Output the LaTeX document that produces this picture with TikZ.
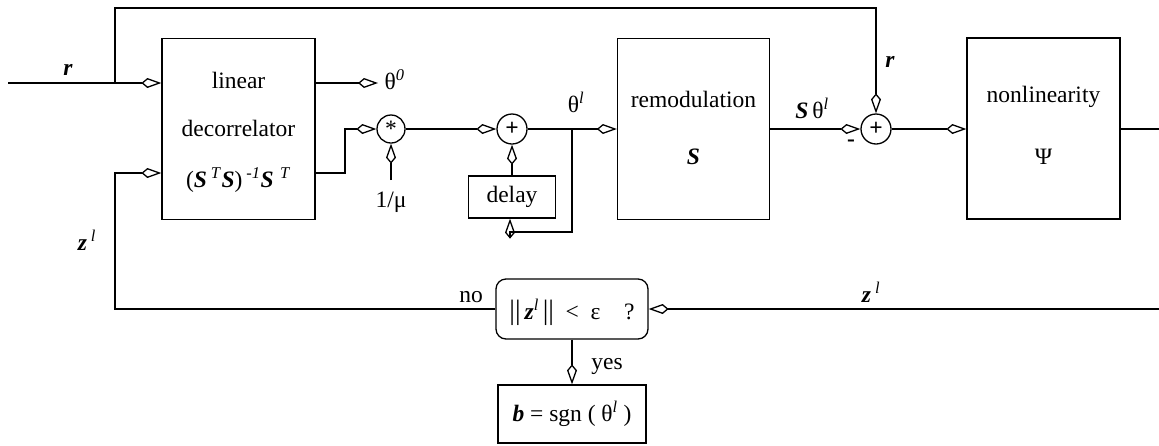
\documentclass[tikz,border=0pt]{standalone}
\usepackage{fontspec}
\setmainfont{Liberation Serif}
\usetikzlibrary{arrows.meta}
\newcommand{\bi}[1]{\textbf{\textit{#1}}}
\newcommand{\sps}[1]{\textsuperscript{\textit{#1}}}
\newcommand{\tallbar}{{\fontsize{28}{28}\selectfont||}}
\begin{document}
\begin{tikzpicture}[x=1pt,y=-1pt,line width=1.3pt,
  every node/.style={font=\fontsize{23.5}{27}\selectfont,inner sep=0pt},
  blk/.style={draw,minimum width=153pt,minimum height=181pt},
  sumc/.style={draw,circle,minimum size=30pt},
  tip/.style={-{Kite[open,length=20pt,width=10pt,inset=6pt]}}]
\useasboundingbox (0,0) rectangle (1159,445);
% blocks
\node[blk] (lin) at (238.5,129) {};
\node (lin1) at (238.5,80) {linear};
\node (lin2) at (238.5,128) {decorrelator};
\node (lin3) at (238.5,180) {(\bi{S}\,\sps{T}\bi{S})\,\sps{-1}\bi{S}\;\sps{T}};
\node[blk,minimum width=152pt] (rem) at (693.5,129) {};
\node (rem1) at (693.5,99) {remodulation};
\node (rem2) at (693.5,157) {\bi{S}};
\node[blk] (nl) at (1043.5,128.5) {};
\node (nl1) at (1043.5,97) {nonlinearity};
\node (nl2) at (1043.5,157) {Ψ};
\node[draw,minimum width=87pt,minimum height=42pt] (delay) at (512,197) {delay};
\node[draw,rounded corners=10pt,minimum width=152pt,minimum height=60pt] (dec) at (572,309) {};
\node (dect) at (572,312) {\tallbar\,\bi{z}\sps{l}\,\tallbar\enspace<\enspace ε\quad ?};
\node[draw,minimum width=148pt,minimum height=58pt] (bb) at (572,414) {\bi{b} = sgn ( θ\sps{l} )};
\node[sumc,minimum size=28pt] (mul) at (391,129) {*};
\node[sumc] (add1) at (512,129) {\textbf{+}};
\node[sumc] (add2) at (876,129) {\textbf{+}};
% labels
\node (lr) at (68,70) {\bi{r}};
\node[anchor=west] (lth0) at (384,80) {θ\sps{0}};
\node (lmu) at (391,202) {1/μ};
\node (lthl) at (576,102) {θ\sps{l}};
\node (lsth) at (812,108) {\bi{S}\,θ\sps{l}};
\node (lminus) at (851,143) {\textbf{-}};
\node (lr2) at (890,62) {\bi{r}};
\node (lz1) at (87,240) {\bi{z}\,\sps{l}};
\node (lno) at (471,297) {no};
\node (lz2) at (871,292) {\bi{z}\,\sps{l}};
\node (lyes) at (607,366) {yes};
% coordinates
\coordinate (in) at (8,83);
\coordinate (rb) at (115,83);
\coordinate (tp) at (115,8);
\coordinate (th0) at (378,83);
\coordinate (lo) at (345,173);
\coordinate (mu) at (391,180);
\coordinate (br) at (572,129);
\coordinate (lp) at (510,232);
\coordinate (out) at (1159,129);
\coordinate (ret) at (1159,309);
\coordinate (zc) at (115,309);
\coordinate (zi) at (115,173);
% connectors
\draw[tip] (in) -- (in -| lin.west);
\draw[tip] (rb) -- (tp) -| (add2.north);
\draw[tip] (lin.east |- th0) -- (th0);
\draw[tip] (lin.east |- lo) -- (lo) |- (mul.west);
\draw[tip] (mu) -- (mul.south);
\draw[tip] (mul) -- (add1);
\draw[tip] (delay.north) -- (add1.south);
\draw[tip] (add1) -- (rem.west);
\draw[tip] (br) |- (lp) -- (lp |- delay.south);
\draw[tip] (rem.east |- add2) -- (add2);
\draw[tip] (add2) -- (nl.west |- add2);
\draw (nl.east |- out) -- (out);
\draw[tip] (ret) -- (dec.east);
\draw[tip] (dec.west) -- (zc) -- (zi) -- (zi -| lin.west);
\draw[tip] (dec.south) -- (bb.north);
\end{tikzpicture}
\end{document}
